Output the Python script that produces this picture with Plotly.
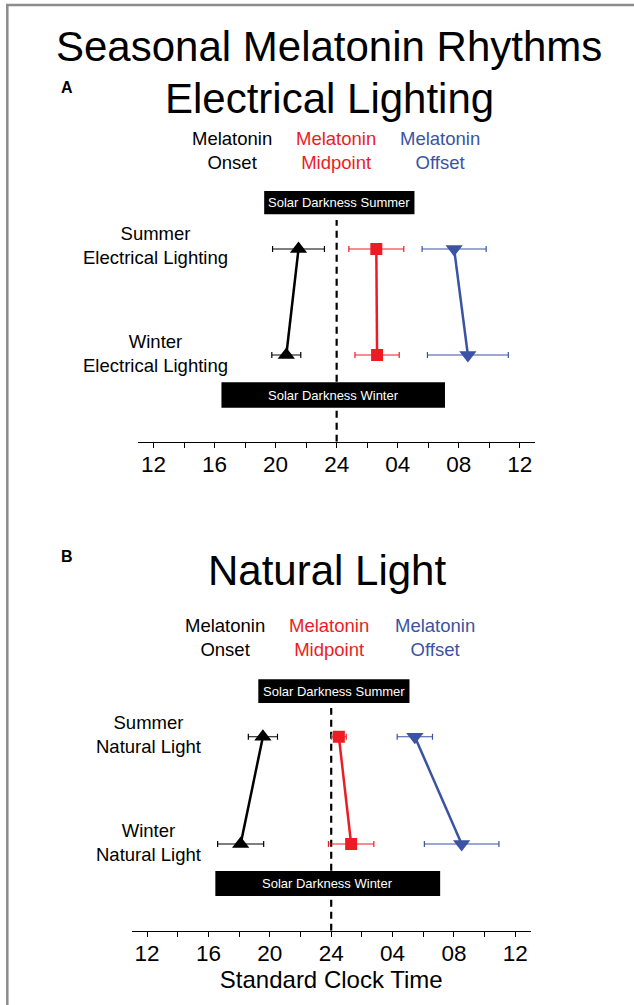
import plotly.graph_objects as go

# ---- data (clock hours; values past 24 are the following morning) ----
seasons = ["Summer", "Winter"]
tick_hours = [12, 14, 16, 18, 20, 22, 24, 26, 28, 30, 32, 34, 36]
tick_text = ["12", "", "16", "", "20", "", "24", "", "04", "", "08", "", "12"]

# Panel A: electrical lighting
elec_onset = [21.5, 20.7]
elec_onset_err = [1.7, 0.95]
elec_mid = [26.6, 26.65]
elec_mid_err = [1.8, 1.45]
elec_offset = [31.7, 32.6]
elec_offset_err = [2.1, 2.65]
elec_dark_summer = [19.25, 29.1]
elec_dark_winter = [16.45, 31.1]

# Panel B: natural light
nat_onset = [19.55, 18.1]
nat_onset_err = [0.95, 1.5]
nat_mid = [24.5, 25.3]
nat_mid_err = [0.48, 1.48]
nat_offset = [29.45, 32.5]
nat_offset_err = [1.15, 2.43]
nat_dark_summer = [19.25, 29.1]
nat_dark_winter = [16.45, 31.1]

row_y = [1, 0]  # summer row above winter row

BLACK = "#000000"
RED = "#ED1C24"
BLUE = "#3A53A4"
FONT = "Liberation Sans, Arial, Helvetica, sans-serif"

W, H = 634, 1005


def px(x):
    return x / W


def py(y):
    return 1 - y / H


fig = go.Figure()

series_style = [
    ("Melatonin Onset", BLACK, "triangle-up", 15),
    ("Melatonin Midpoint", RED, "square", 12),
    ("Melatonin Offset", BLUE, "triangle-down", 15),
]

panels = [
    ("x", "y", [(elec_onset, elec_onset_err), (elec_mid, elec_mid_err), (elec_offset, elec_offset_err)]),
    ("x2", "y2", [(nat_onset, nat_onset_err), (nat_mid, nat_mid_err), (nat_offset, nat_offset_err)]),
]

for xa, ya, series in panels:
    for (name, color, symbol, size), (vals, errs) in zip(series_style, series):
        fig.add_trace(go.Scatter(
            x=vals, y=row_y, xaxis=xa, yaxis=ya, name=name,
            mode="lines+markers",
            line=dict(color=color, width=2.5),
            marker=dict(color=color, symbol=symbol, size=size, line=dict(width=0)),
            error_x=dict(type="data", array=errs, color=color, thickness=1.2, width=3),
            showlegend=False, hoverinfo="x+name",
        ))

axis_common = dict(
    range=[11, 37], tickmode="array", tickvals=tick_hours, ticktext=tick_text,
    ticks="outside", ticklen=5, tickwidth=1, tickcolor="black",
    ticklabelstandoff=-3,
    showline=True, linecolor="black", linewidth=1.3,
    showgrid=False, zeroline=False,
    tickfont=dict(family=FONT, size=22.5, color="black"),
)

fig.update_layout(
    width=W, height=H,
    margin=dict(l=0, r=0, t=0, b=0),
    paper_bgcolor="white", plot_bgcolor="white",
    font=dict(family=FONT, color="black"),
    xaxis=dict(domain=[px(138.3), px(535)], anchor="y", **axis_common),
    yaxis=dict(domain=[py(441.7), py(180)], range=[-0.818, 1.651], visible=False, fixedrange=True),
    xaxis2=dict(domain=[px(131.7), px(530.7)], anchor="y2",
                title=dict(text="Standard Clock Time", font=dict(family=FONT, size=24, color="black"), standoff=2),
                **axis_common),
    yaxis2=dict(domain=[py(930.7), py(670)], range=[-0.808, 1.622], visible=False, fixedrange=True),
)

shapes = []
annotations = []

# dashed midnight lines and solar-darkness bars
for xa, ya, ybot, ytop, dsum, dwin, sy, wy in [
    ("x", "y", -0.818, 1.274, elec_dark_summer, elec_dark_winter, (1.327, 1.547), (-0.497, -0.258)),
    ("x2", "y2", -0.808, 1.267, nat_dark_summer, nat_dark_winter, (1.314, 1.535), (-0.485, -0.252)),
]:
    shapes.append(dict(type="line", xref=xa, yref=ya, x0=24, x1=24, y0=ybot, y1=ytop,
                       line=dict(color="black", width=2.2, dash="7px,5px"), layer="below"))
    for (x0, x1), (y0, y1), label in [(dsum, sy, "Solar Darkness Summer"), (dwin, wy, "Solar Darkness Winter")]:
        shapes.append(dict(type="rect", xref=xa, yref=ya, x0=x0, x1=x1, y0=y0, y1=y1,
                           fillcolor="black", line=dict(width=0), layer="above"))
        annotations.append(dict(xref=xa, yref=ya, x=(x0 + x1) / 2, y=(y0 + y1) / 2,
                                text=label, showarrow=False,
                                font=dict(family=FONT, size=13, color="white")))


def text(x, y, s, size, color="black", xanchor="center"):
    annotations.append(dict(xref="paper", yref="paper", x=px(x), y=py(y), text=s,
                            showarrow=False, xanchor=xanchor, yanchor="middle",
                            font=dict(family=FONT, size=size, color=color)))


# titles
text(329, 47, "Seasonal Melatonin Rhythms", 42)
text(329.5, 98, "Electrical Lighting", 42)
text(326.5, 570, "Natural Light", 42)
text(67, 87, "<b>A</b>", 16)
text(67, 556, "<b>B</b>", 16)

# series headers
for cx, dy in [((231.5, 335.5, 439.5), 150), ((225, 329, 435), 637)]:
    text(cx[0], dy, "Melatonin<br>Onset", 18.5, BLACK)
    text(cx[1], dy, "Melatonin<br>Midpoint", 18.5, RED)
    text(cx[2], dy, "Melatonin<br>Offset", 18.5, BLUE)

# row labels
text(155.5, 246, "Summer<br>Electrical Lighting", 18.5)
text(155.5, 353, "Winter<br>Electrical Lighting", 18.5)
text(148.5, 734, "Summer<br>Natural Light", 18.5)
text(148.5, 842, "Winter<br>Natural Light", 18.5)

# frame lines on the left and top
shapes.append(dict(type="line", xref="paper", yref="paper", x0=px(7.3), x1=px(7.3), y0=py(4), y1=0,
                   line=dict(color="#8c8c8c", width=2.5)))
shapes.append(dict(type="line", xref="paper", yref="paper", x0=px(6), x1=1, y0=py(5), y1=py(5),
                   line=dict(color="#8c8c8c", width=2.5)))

fig.update_layout(shapes=shapes, annotations=annotations)

fig.write_html("out.html")
